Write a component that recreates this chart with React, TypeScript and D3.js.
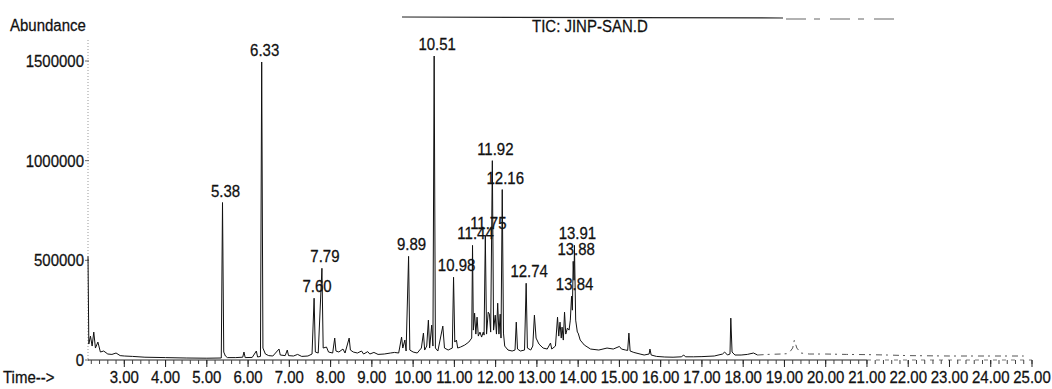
import React from "react";
import * as d3 from "d3";

// retention time (min) / abundance pairs
const trace: [number, number][] = [
  [2.12, 520000], [2.14, 80000], [2.18, 120000], [2.22, 70000], [2.26, 140000], [2.3, 60000],
  [2.36, 90000], [2.42, 40000], [2.5, 45000], [2.6, 30000], [2.7, 28000], [2.8, 35000],
  [2.9, 22000], [3.0, 20000], [3.2, 18000], [3.5, 14000], [4.0, 12000], [4.5, 10000],
  [5.0, 9000], [5.35, 10000], [5.38, 790000], [5.41, 40000], [5.45, 20000], [5.5, 12000],
  [5.7, 12000], [5.87, 14000], [5.9, 40000], [5.93, 12000], [6.1, 13000], [6.2, 45000],
  [6.23, 15000], [6.3, 18000], [6.33, 1495000], [6.36, 60000], [6.42, 30000], [6.5, 22000],
  [6.6, 20000], [6.75, 55000], [6.78, 25000], [6.9, 22000], [6.95, 50000], [6.98, 22000],
  [7.1, 20000], [7.2, 28000], [7.3, 18000], [7.45, 20000], [7.55, 30000], [7.6, 310000],
  [7.63, 40000], [7.7, 35000], [7.79, 460000], [7.82, 60000], [7.9, 65000], [7.95, 40000],
  [8.05, 35000], [8.1, 110000], [8.13, 45000], [8.2, 40000], [8.3, 55000], [8.35, 35000],
  [8.45, 110000], [8.48, 50000], [8.55, 40000], [8.65, 35000], [8.75, 45000], [8.8, 30000],
  [8.9, 42000], [8.95, 30000], [9.05, 38000], [9.15, 28000], [9.3, 30000], [9.45, 35000],
  [9.55, 38000], [9.65, 35000], [9.72, 115000], [9.75, 60000], [9.8, 100000], [9.83, 45000],
  [9.89, 520000], [9.92, 50000], [10.0, 40000], [10.1, 35000], [10.2, 60000], [10.25, 135000],
  [10.28, 50000], [10.33, 70000], [10.37, 200000], [10.4, 60000], [10.45, 175000], [10.48, 70000],
  [10.51, 1525000], [10.54, 60000], [10.6, 45000], [10.72, 170000], [10.76, 60000], [10.85, 50000],
  [10.95, 60000], [10.98, 415000], [11.01, 90000], [11.05, 100000], [11.08, 60000], [11.15, 65000],
  [11.25, 75000], [11.35, 90000], [11.42, 110000], [11.44, 575000], [11.46, 150000], [11.49, 235000],
  [11.52, 130000], [11.55, 215000], [11.58, 120000], [11.62, 140000], [11.66, 115000], [11.7, 140000],
  [11.72, 125000], [11.75, 625000], [11.78, 130000], [11.82, 240000], [11.85, 230000], [11.88, 140000],
  [11.92, 1000000], [11.95, 150000], [11.99, 225000], [12.02, 130000], [12.05, 285000], [12.08, 130000],
  [12.11, 230000], [12.13, 110000], [12.16, 855000], [12.19, 135000], [12.22, 70000], [12.3, 50000],
  [12.4, 45000], [12.47, 50000], [12.5, 190000], [12.53, 55000], [12.6, 45000], [12.7, 50000],
  [12.74, 385000], [12.77, 60000], [12.85, 50000], [12.9, 70000], [12.94, 225000], [12.98, 110000],
  [13.05, 80000], [13.15, 60000], [13.25, 55000], [13.33, 85000], [13.36, 55000], [13.45, 70000],
  [13.5, 215000], [13.53, 120000], [13.56, 190000], [13.59, 110000], [13.61, 165000], [13.64, 100000],
  [13.67, 240000], [13.7, 130000], [13.74, 160000], [13.78, 150000], [13.81, 200000], [13.84, 320000],
  [13.86, 250000], [13.88, 495000], [13.9, 400000], [13.91, 575000], [13.94, 200000], [13.98, 140000],
  [14.0, 135000], [14.05, 100000], [14.15, 75000], [14.3, 55000], [14.5, 50000], [14.7, 60000],
  [14.85, 55000], [15.0, 68000], [15.05, 55000], [15.15, 50000], [15.2, 48000], [15.23, 135000],
  [15.26, 45000], [15.35, 38000], [15.5, 30000], [15.6, 25000], [15.72, 30000], [15.74, 55000],
  [15.77, 25000], [15.9, 18000], [16.1, 15000], [16.3, 14000], [16.5, 16000], [16.56, 25000],
  [16.6, 16000], [16.8, 16000], [17.0, 17000], [17.3, 20000], [17.5, 30000], [17.55, 40000],
  [17.62, 25000], [17.68, 30000], [17.7, 210000], [17.73, 40000], [17.8, 25000], [17.95, 25000],
  [18.1, 28000], [18.25, 35000], [18.35, 25000],
];

// faint, broken end of the run
const traceTail: [number, number][] = [
  [18.35, 25000], [18.6, 28000], [18.9, 30000], [19.1, 32000], [19.2, 60000], [19.24, 100000],
  [19.3, 60000], [19.4, 35000], [19.6, 30000], [20.0, 30000], [20.5, 28000], [21.0, 27000],
  [21.5, 25000], [22.0, 22000], [23.0, 20000], [24.0, 20000], [24.8, 20000],
];

const peakTimes = [5.38, 6.33, 7.6, 7.79, 9.89, 10.51, 10.98, 11.44, 11.75, 11.92, 12.16, 12.74, 13.84, 13.88, 13.91];
const peakHeights = [790000, 1495000, 310000, 460000, 520000, 1525000, 415000, 575000, 625000, 1000000, 855000, 385000, 320000, 495000, 575000];

const timeTicks = [3, 4, 5, 6, 7, 8, 9, 10, 11, 12, 13, 14, 15, 16, 17, 18, 19, 20, 21, 22, 23, 24, 25];
const abundanceTicks = [0, 500000, 1000000, 1500000];

const W = 1052;
const H = 389;
const FONT = "'Liberation Sans', Arial, sans-serif";

const Txt = ({ x, y, anchor = "start", children }: { x: number; y: number; anchor?: string; children: React.ReactNode }) => (
  <text
    transform={`translate(${x},${y}) scale(1,1.1)`}
    textAnchor={anchor}
    fontSize={15}
    fontFamily={FONT}
    fill="#111"
    stroke="#111"
    strokeWidth={0.25}
  >
    {children}
  </text>
);

export default function App() {
  const x = d3.scaleLinear().domain([2.12, 25]).range([88, 1032]);
  const y = d3.scaleLinear().domain([0, 1500000]).range([360, 61]);
  const axisY = 360;

  const line = d3
    .line<[number, number]>()
    .x((d) => x(d[0]))
    .y((d) => y(d[1]));

  const minorTicks = d3.range(2.2, 25.01, 0.2);

  return (
    <svg
      width={W}
      height={H}
      style={{ position: "absolute", left: 0, top: 0, background: "#fff" }}
    >
      {/* header rule + title */}
      <line x1={402} x2={783} y1={17} y2={18} stroke="#222" strokeWidth={1.2} />
      <line x1={786} x2={895} y1={19} y2={19} stroke="#666" strokeWidth={1.2} strokeDasharray="20 8 6 10" />
      <Txt x={532} y={32}>TIC: JINP-SAN.D</Txt>

      <Txt x={10} y={31}>Abundance</Txt>

      {/* y axis */}
      <line x1={88} x2={88} y1={40} y2={axisY} stroke="#999" strokeDasharray="1 2" />
      {abundanceTicks.map((v) => (
        <g key={v}>
          <line x1={85} x2={89} y1={y(v)} y2={y(v)} stroke="#666" />
          <Txt x={84} y={y(v) + 6} anchor="end">
            {v}
          </Txt>
        </g>
      ))}

      {/* x axis */}
      <line x1={88} x2={x(21)} y1={axisY} y2={axisY} stroke="#222" />
      <line x1={x(21)} x2={x(25)} y1={axisY} y2={axisY} stroke="#777" strokeDasharray="4 5" />
      {minorTicks.map((t) => (
        <line key={t} x1={x(t)} x2={x(t)} y1={axisY} y2={axisY + 4} stroke="#444" />
      ))}
      {timeTicks.map((t) => (
        <g key={t}>
          <line x1={x(t)} x2={x(t)} y1={axisY} y2={axisY + 7} stroke="#222" />
          <Txt x={x(t)} y={383} anchor="middle">
            {t.toFixed(2)}
          </Txt>
        </g>
      ))}
      <Txt x={3} y={383}>Time--&gt;</Txt>

      {/* chromatogram */}
      <path d={line(trace) ?? ""} fill="none" stroke="#111" strokeWidth={1} strokeLinejoin="round" />
      <path d={line(traceTail) ?? ""} fill="none" stroke="#555" strokeWidth={1} strokeDasharray="6 4 2 5" />

      {/* peak labels */}
      {peakTimes.map((t, i) => (
        <Txt key={t} x={x(t) + 3} y={y(peakHeights[i]) - 6} anchor="middle">
          {t.toFixed(2)}
        </Txt>
      ))}
    </svg>
  );
}
